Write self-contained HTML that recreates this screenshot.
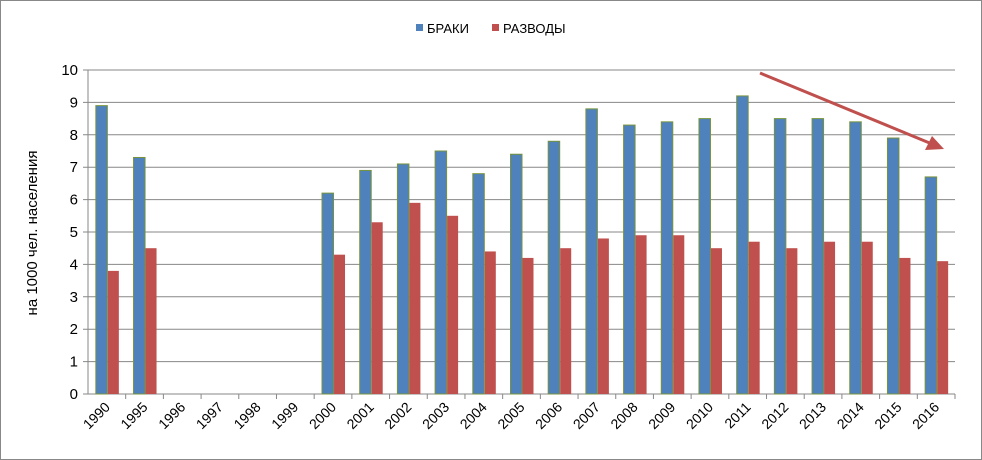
<!DOCTYPE html>
<html><head><meta charset="utf-8"><style>
body{margin:0;background:#fff;}
svg{display:block;font-family:"Liberation Sans","DejaVu Sans",sans-serif;}
</style></head><body>
<svg id="chart" width="982" height="460">
<rect x="0.5" y="0.5" width="981" height="459" fill="#fff" stroke="#888"/>
<g>
<rect x="416" y="24" width="7" height="7" fill="#4f81bd"/>
<text x="427" y="33" font-size="13" fill="#000">БРАКИ</text>
<rect x="492" y="24" width="7" height="7" fill="#c0504d"/>
<text x="503" y="33" font-size="13" fill="#000">РАЗВОДЫ</text>
</g>
<text transform="translate(37,233) rotate(-90)" text-anchor="middle" font-size="15">на 1000 чел. населения</text>
<g id="grid"></g><g id="bars"></g><g id="axes"></g>
<g>
<line x1="760" y1="73" x2="932" y2="144" stroke="#c0504d" stroke-width="3"/>
<polygon points="944,149 925,150 932,136" fill="#c0504d"/>
</g>
</svg>
<script>
const categories=["1990","1995","1996","1997","1998","1999","2000","2001","2002","2003","2004","2005","2006","2007","2008","2009","2010","2011","2012","2013","2014","2015","2016"];
const marriages=[8.9,7.3,null,null,null,null,6.2,6.9,7.1,7.5,6.8,7.4,7.8,8.8,8.3,8.4,8.5,9.2,8.5,8.5,8.4,7.9,6.7];
const divorces=[3.8,4.5,null,null,null,null,4.3,5.3,5.9,5.5,4.4,4.2,4.5,4.8,4.9,4.9,4.5,4.7,4.5,4.7,4.7,4.2,4.1];
const yTicks=[0,1,2,3,4,5,6,7,8,9,10];
const NS="http://www.w3.org/2000/svg";
const X0=88,X1=955,Y0=394,Y1=70;
const bw=(X1-X0)/categories.length;
const y=v=>Y0-(v/10)*(Y0-Y1);
function mk(t,a,p){const e=document.createElementNS(NS,t);for(const k in a)e.setAttribute(k,a[k]);p.appendChild(e);return e;}
const grid=document.getElementById('grid'),bars=document.getElementById('bars'),axes=document.getElementById('axes');
yTicks.forEach(t=>{
 const l=mk('line',{x1:X0-5,x2:X1,y1:y(t),y2:y(t),stroke:'#878787','stroke-width':1},grid);
 
 
 const tx=mk('text',{x:X0-10,y:y(t)+5,'text-anchor':'end','font-size':15},axes);
 tx.textContent=t;
 
 
});
const ax=mk('line',{x1:X0,x2:X0,y1:Y1,y2:Y0,stroke:'#878787'},axes);


categories.forEach((c,i)=>{
 const cx=X0+bw*(i+0.5);
 const tk=mk('line',{x1:X0+bw*(i+1),x2:X0+bw*(i+1),y1:Y0,y2:Y0+5,stroke:'#878787'},axes);
 
 
 const tx=mk('text',{x:cx+4,y:Y0+14,'text-anchor':'end','font-size':14,transform:`rotate(-45 ${cx+4} ${Y0+14})`},axes);
 tx.textContent=c;
 
 
 if(marriages[i]!=null){
  const r=mk('rect',{x:cx-11,y:y(marriages[i]),width:11.5,height:Y0-y(marriages[i]),fill:'#4f81bd',stroke:'#77933c','stroke-width':1},bars);
  
  
 }
 if(divorces[i]!=null){
  const r=mk('rect',{x:cx+1,y:y(divorces[i]),width:11,height:Y0-y(divorces[i]),fill:'#c0504d'},bars);
  
  
 }
});
</script>
</body></html>
